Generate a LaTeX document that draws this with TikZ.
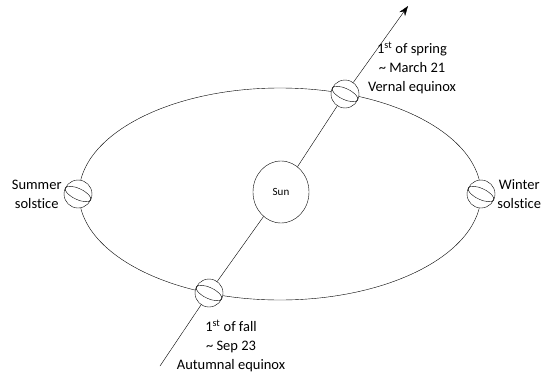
\documentclass[tikz,border=0pt]{standalone}
\usepackage{fontspec}
\setmainfont[Ligatures=NoCommon]{Carlito}
\usetikzlibrary{arrows.meta}
\usetikzlibrary{shapes.geometric}
\usetikzlibrary{positioning}
\tikzset{
  x = 1pt,
  y = 1pt,
  line width = 0.6pt,
  earth/.style = {circle, draw, fill=white, minimum size=28pt, inner sep=0pt},
  season/.style = {align=center, inner sep=0pt, font=\fontsize{14.5}{19}\selectfont},
}

\begin{document}
\begin{tikzpicture}
    \useasboundingbox (0,0) rectangle (543,376);
    % orbit goes first, the bodies are filled white on top of it
    \draw (280,182) ellipse [x radius=201, y radius=106];

    \node [ellipse, draw, fill=white, minimum width=56pt, minimum height=62pt,
           font=\fontsize{11}{12}\selectfont] (sun) at (281,184) {Sun};
    \node [earth] (summer) at (78,182) {};
    \node [earth] (winter) at (481,182) {};
    \node [earth] (spring) at (345,282) {};
    \node [earth] (fall)   at (209,83) {};
    \coordinate (low) at (160,10);
    \coordinate (tip) at (408,370);

    % tilted equator band on each earth
    \foreach \e in {summer, winter, spring, fall}
      \draw [shift={(\e.center)}, rotate=-25] (0,0) ellipse [x radius=14, y radius=5.5];

    \node [season, left = 2pt of summer] (summerlbl) {Summer\\solstice};
    \node [season, right = 2pt of winter] (winterlbl) {Winter\\solstice};
    \node [season] (springlbl) at (412,308)
      {1\textsuperscript{st} of spring\\\textasciitilde{} March 21\\Vernal equinox};
    \node [season] (falllbl) at (231,30)
      {1\textsuperscript{st} of fall\\\textasciitilde{} Sep 23\\Autumnal equinox};

    \draw [-{Stealth[length=10pt, width=7pt]}] (low) -- (fall) -- (sun) -- (spring) -- (tip);
\end{tikzpicture}
\end{document}
